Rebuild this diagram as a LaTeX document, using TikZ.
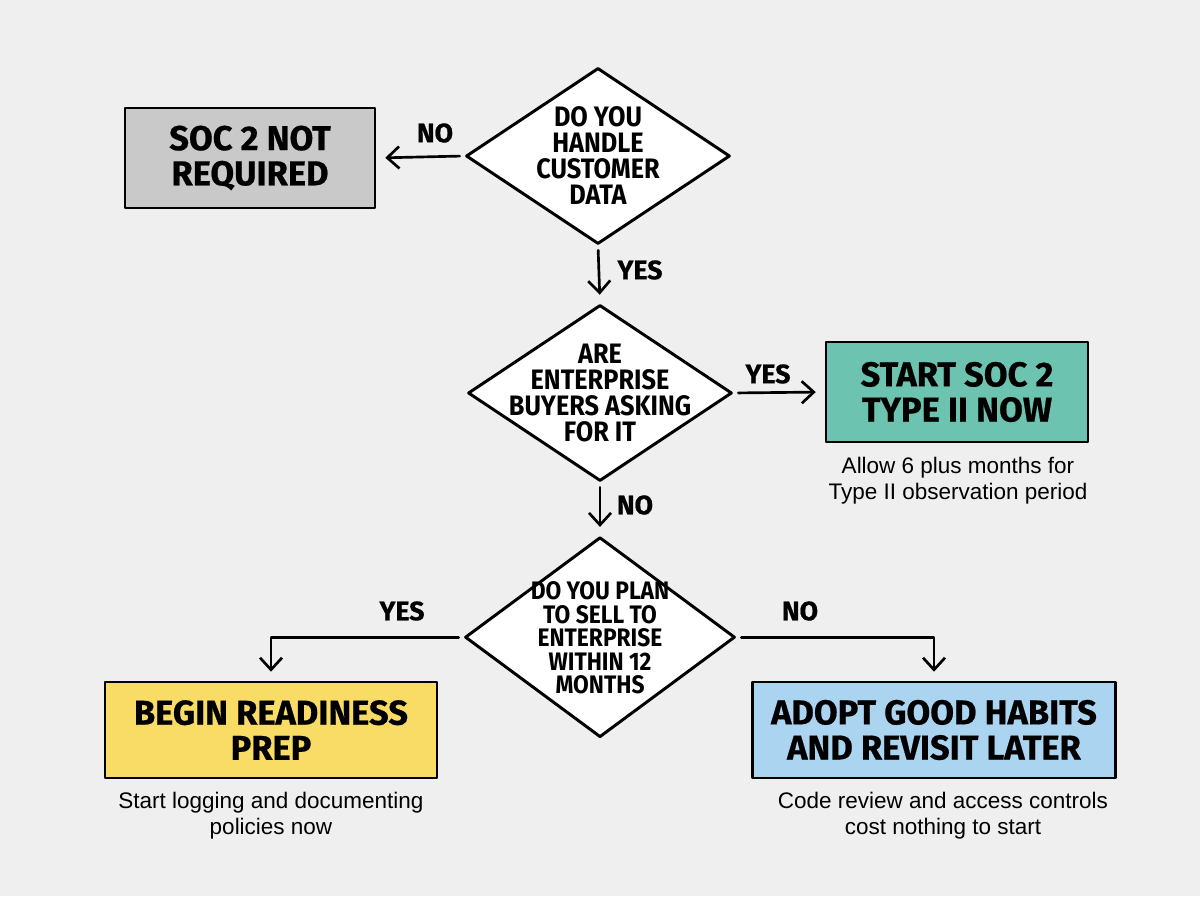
\documentclass[tikz,border=0pt]{standalone}
\usepackage{fontspec}
\setmainfont{Liberation Sans}
\newfontfamily\headfont[FakeBold=0.6]{Fira Sans}
\newfontfamily\narrowfont[FakeStretch=0.9]{Fira Sans}
\usetikzlibrary{arrows.meta,shapes.geometric}

\definecolor{bgcol}{HTML}{EFEFEF}
\definecolor{graybox}{HTML}{C9C9C9}
\definecolor{tealbox}{HTML}{6CC4B0}
\definecolor{yellowbox}{HTML}{F8DC66}
\definecolor{bluebox}{HTML}{AAD4F0}

\begin{document}
\begin{tikzpicture}[x=1cm,y=1cm]
\tikzset{
  decision/.style={diamond,draw=black,fill=white,line width=2.1pt,line join=round,
    inner sep=-1cm,minimum width=6.6cm,minimum height=4.4cm,align=center,
    font=\narrowfont\bfseries\fontsize{20pt}{18.5pt}\selectfont},
  outcome/.style={rectangle,draw=black,line width=2.1pt,line join=round,
    inner sep=2pt,minimum height=2.5cm,align=center,
    font=\headfont\bfseries\fontsize{24.5pt}{25pt}\selectfont},
  answer/.style={font=\headfont\bfseries\fontsize{19pt}{19pt}\selectfont,inner sep=0pt},
  note/.style={align=center,inner sep=0pt,font=\fontsize{16pt}{18.7pt}\selectfont},
  flow/.style={draw=black,line width=1.9pt,line cap=round,line join=round,
    -{Straight Barb[length=3mm,width=5.5mm,line width=1.9pt]},
    shorten <=0.12cm,shorten >=0.22cm}
}
\fill[bgcol] (0,0) rectangle (30,22.4);
\useasboundingbox (0,0) rectangle (30,22.4);

% questions
\node[decision] (q_data) at (14.95,18.5) {DO YOU\\HANDLE\\CUSTOMER\\DATA};
\node[decision] (q_buyers) at (15.0,12.575) {ARE\\ENTERPRISE\\BUYERS ASKING\\FOR IT};
\node[decision,minimum width=6.75cm,minimum height=5cm,
  font=\narrowfont\bfseries\fontsize{18pt}{16.7pt}\selectfont] (q_plan) at (15.0,6.47)
  {{}\\[-0.1cm]DO YOU PLAN\\TO SELL TO\\ENTERPRISE\\WITHIN 12\\MONTHS};

% outcomes
\node[outcome,fill=graybox,minimum width=6.25cm] (o_none) at (6.25,18.45) {SOC 2 NOT\\REQUIRED};
\node[outcome,fill=tealbox,minimum width=6.55cm] (o_start) at (23.925,12.6) {START SOC 2\\TYPE II NOW};
\node[outcome,fill=yellowbox,minimum width=8.3cm,minimum height=2.4cm] (o_prep) at (6.775,4.15) {BEGIN READINESS\\PREP};
\node[outcome,fill=bluebox,minimum width=9.075cm,minimum height=2.4cm] (o_habits) at (23.35,4.15) {ADOPT GOOD HABITS\\AND REVISIT LATER};

% notes
\node[note] (n_start) at (23.95,10.375) {Allow 6 plus months for\\Type II observation period};
\node[note] (n_prep) at (6.775,2.0) {Start logging and documenting\\policies now};
\node[note] (n_habits) at (23.575,2.0) {Code review and access controls\\cost nothing to start};

% answers
\node[answer] (a_no1) at (10.875,19.075) {NO};
\node[answer] (a_yes1) at (16.0,15.65) {YES};
\node[answer] (a_yes2) at (19.2,13.05) {YES};
\node[answer] (a_no2) at (15.875,9.775) {NO};
\node[answer] (a_yes3) at (10.05,7.125) {YES};
\node[answer] (a_no3) at (20.0,7.125) {NO};

% connectors
\draw[flow] (q_data.west) -- (o_none.east);
\draw[flow] (q_data.south) -- (q_buyers.north);
\draw[flow] (q_buyers.east) -- (o_start.west);
\draw[flow] (q_buyers.south) -- (q_plan.north);
\draw[flow] (q_plan.west) -| (o_prep.north);
\draw[flow] (q_plan.east) -| (o_habits.north);
\end{tikzpicture}
\end{document}
